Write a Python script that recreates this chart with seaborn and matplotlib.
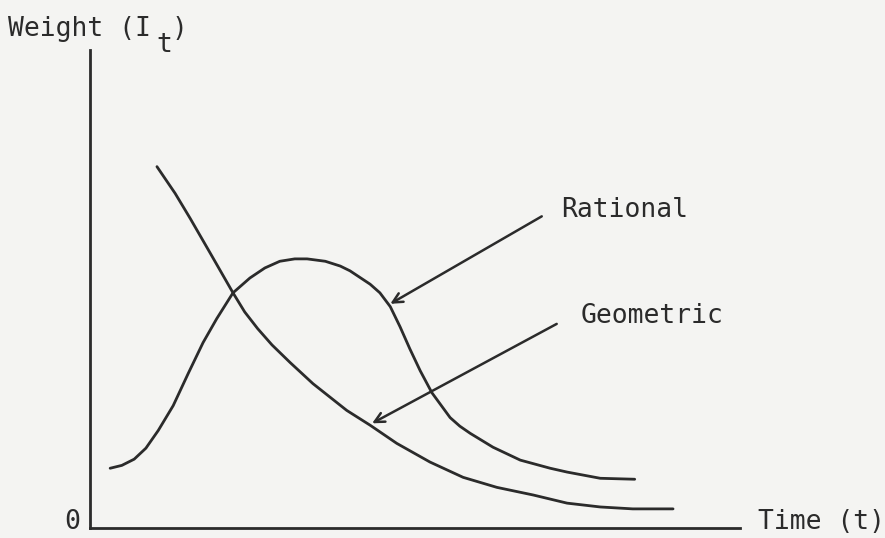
import pandas as pd
import matplotlib
matplotlib.use("Agg")
import matplotlib.pyplot as plt
import seaborn as sns

# values (time units 0-10, weight units 0-10)
geometric_t = [1.03, 1.31, 1.54, 1.85, 2.20, 2.38, 2.58, 2.80, 3.08, 3.43, 3.95,
               4.31, 4.72, 5.23, 5.74, 6.26, 6.82, 7.34, 7.85, 8.35, 8.97]
geometric_w = [7.56, 7.00, 6.48, 5.75, 4.92, 4.52, 4.17, 3.83, 3.46, 3.02, 2.46,
               2.15, 1.77, 1.38, 1.06, 0.85, 0.69, 0.52, 0.44, 0.40, 0.40]

rational_t = [0.31, 0.49, 0.68, 0.86, 1.05, 1.28, 1.51, 1.74, 1.95, 2.20, 2.46,
              2.69, 2.92, 3.15, 3.34, 3.62, 3.85, 4.00, 4.31, 4.46, 4.62, 4.77,
              4.92, 5.08, 5.26, 5.54, 5.69, 5.85, 6.20, 6.62, 7.08, 7.34, 7.85, 8.38]
rational_w = [1.25, 1.31, 1.44, 1.67, 2.04, 2.56, 3.23, 3.88, 4.38, 4.92, 5.23,
              5.44, 5.58, 5.63, 5.63, 5.58, 5.48, 5.38, 5.10, 4.92, 4.63, 4.21,
              3.75, 3.29, 2.83, 2.31, 2.13, 1.98, 1.69, 1.42, 1.25, 1.17, 1.04, 1.02]

labels = ["Rational", "Geometric"]
arrow_tips = [(4.62, 4.69), (4.34, 2.19)]
arrow_tails = [(6.95, 6.52), (7.18, 4.27)]
label_pos = [(7.25, 6.65), (7.55, 4.43)]

ink = "#2b2b2b"
bg = "#f4f4f2"

df = pd.concat([
    pd.DataFrame({"t": rational_t, "w": rational_w, "curve": "Rational"}),
    pd.DataFrame({"t": geometric_t, "w": geometric_w, "curve": "Geometric"}),
], ignore_index=True)

sns.set_style("white")
plt.rcParams["font.family"] = ["DejaVu Sans Mono"]

fig = plt.figure(figsize=(8.85, 5.38), dpi=100, facecolor=bg)
ax = fig.add_axes([90 / 885, 10 / 538, 650 / 885, 478 / 538])
ax.set_facecolor(bg)

sns.lineplot(data=df, x="t", y="w", hue="curve", units="curve", estimator=None,
             sort=False, palette=[ink, ink], linewidth=2.0, legend=False, ax=ax,
             solid_joinstyle="round", solid_capstyle="round")

for lab, tip, tail, pos in zip(labels, arrow_tips, arrow_tails, label_pos):
    ax.annotate("", xy=tip, xytext=tail,
                arrowprops=dict(arrowstyle="->,head_length=0.7,head_width=0.35",
                                lw=1.8, color=ink, shrinkA=0, shrinkB=0))
    ax.text(pos[0], pos[1], lab, fontsize=19, color=ink, va="center", ha="left")

ax.set_xlim(0, 10)
ax.set_ylim(0, 10)
ax.set_xticks([])
ax.set_yticks([])
ax.set_xlabel("")
ax.set_ylabel("")
for side in ["top", "right"]:
    ax.spines[side].set_visible(False)
for side in ["left", "bottom"]:
    ax.spines[side].set_color(ink)
    ax.spines[side].set_linewidth(2.0)

# axis captions in typewriter style
fig.text(8 / 885, 1 - 36 / 538, "Weight (I", fontsize=19, color=ink, va="baseline")
fig.text(156 / 885, 1 - 52 / 538, "t", fontsize=19, color=ink, va="baseline")
fig.text(172 / 885, 1 - 36 / 538, ")", fontsize=19, color=ink, va="baseline")
fig.text(64 / 885, 1 - 529 / 538, "0", fontsize=19, color=ink, va="baseline")
fig.text(758 / 885, 1 - 529 / 538, "Time (t)", fontsize=19, color=ink, va="baseline")

fig.savefig("out.png", dpi=100, facecolor=bg)
